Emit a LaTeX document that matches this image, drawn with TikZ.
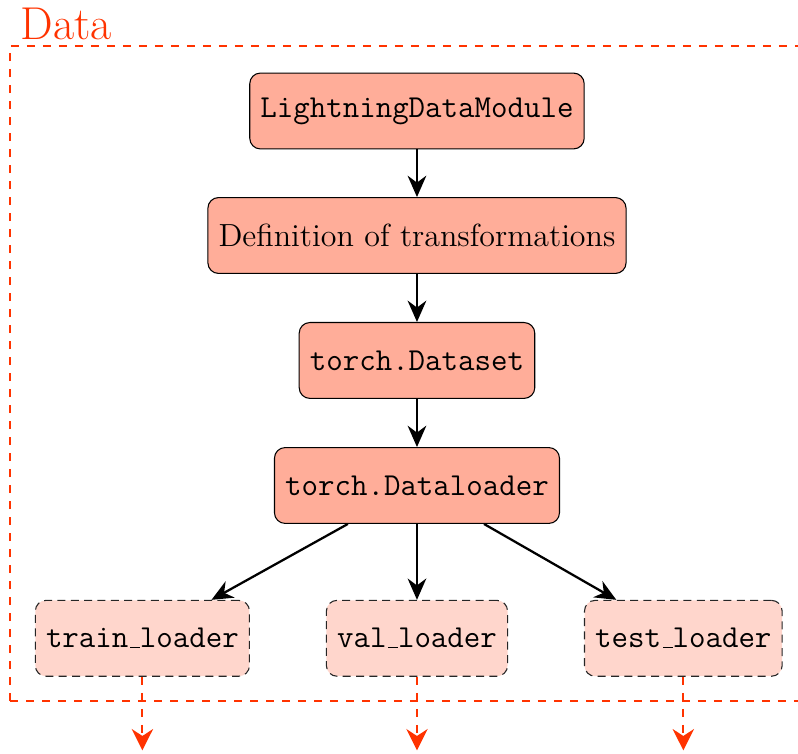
\documentclass[12pt,tikz,border=0pt]{standalone}
\usetikzlibrary{arrows.meta,positioning}
\definecolor{dred}{RGB}{255,51,0}
% classic rule-style underscore
\newcommand\lowbar{\leavevmode\kern.06em\vbox{\hrule width.3em}}
\tikzset{
  mainbox/.style={draw=black, fill=dred!40, rounded corners=4pt,
    minimum height=1cm, align=center},
  loaderbox/.style={draw=black!85, densely dashed, fill=dred!20,
    rounded corners=4pt, minimum height=1cm, font=\ttfamily},
  flow/.style={line width=0.85pt, -{Stealth[length=8pt,width=7pt,inset=2.6pt]}},
  outflow/.style={dred, line width=0.75pt, dashed,
    -{Stealth[length=8pt,width=8pt,inset=2.6pt]}},
  region/.style={dred, line width=0.75pt, dashed},
}
\begin{document}
\begin{tikzpicture}
\clip (0,0) rectangle (10.518,-9.925);

% the data region
\draw[region] (0.132,-9.24) -- (0.132,-0.606) -- (11.5,-0.606)
  (0.132,-9.24) -- (11.5,-9.24);
\node[anchor=base west, inner sep=0pt, text=dred, font=\Large] (title)
  at (0.265,-0.518) {Data};

% pipeline
\node[mainbox] (ldm) at (5.496,-1.463) {\texttt{LightningDataModule}};
\node[mainbox] (def) at (5.496,-3.104) {Definition of transformations};
\node[mainbox] (ds)  at (5.496,-4.751) {\texttt{torch.Dataset}};
\node[mainbox] (dl)  at (5.496,-6.399) {\texttt{torch.Dataloader}};

\node[loaderbox, below=1cm of dl]    (val)   {val\lowbar loader};
\node[loaderbox, left=1cm of val]    (train) {train\lowbar loader};
\node[loaderbox, right=1cm of val]   (test)  {test\lowbar loader};

\draw[flow] (ldm) -- (def);
\draw[flow] (def) -- (ds);
\draw[flow] (ds) -- (dl);
\draw[flow] (dl) -- (train);
\draw[flow] (dl) -- (val);
\draw[flow] (dl) -- (test);

% outputs leaving the region
\coordinate (train-out) at ([yshift=-0.97cm]train.south);
\coordinate (val-out)   at ([yshift=-0.97cm]val.south);
\coordinate (test-out)  at ([yshift=-0.97cm]test.south);
\draw[outflow] (train.south) -- (train-out);
\draw[outflow] (val.south) -- (val-out);
\draw[outflow] (test.south) -- (test-out);
\end{tikzpicture}
\end{document}
